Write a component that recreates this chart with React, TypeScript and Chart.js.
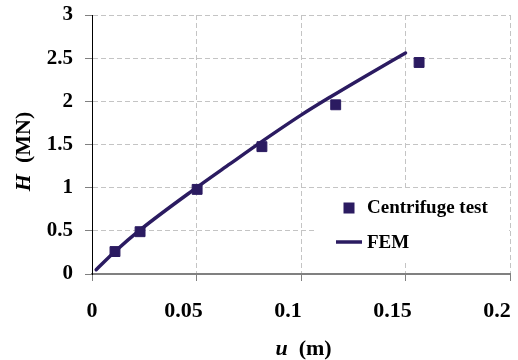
import React, { useEffect, useRef } from 'react';
import { Chart, registerables } from 'chart.js';
Chart.register(...registerables);

// Centrifuge test points
const testU = [0.011, 0.023, 0.0503, 0.0813, 0.1166, 0.1565];
const testH = [0.26, 0.49, 0.98, 1.475, 1.96, 2.45];
// FEM curve
const femU = [0.002, 0.011, 0.023, 0.05, 0.066, 0.081, 0.1, 0.114, 0.13, 0.15];
const femH = [0.05, 0.26, 0.51, 1.0, 1.275, 1.53, 1.84, 2.05, 2.28, 2.56];
// Axes
const xTicks = [0, 0.05, 0.1, 0.15, 0.2];
const xTickLabels = ['0', '0.05', '0.1', '0.15', '0.2'];
const yTicks = [0, 0.5, 1, 1.5, 2, 2.5, 3];
const seriesNames = ['Centrifuge test', 'FEM'];

const NAVY = '#2B1B61';
const FONT = '"Liberation Serif", "Times New Roman", serif';

export default function App() {
  const ref = useRef<HTMLCanvasElement | null>(null);
  useEffect(() => {
    if (!ref.current) return;
    const extras = {
      id: 'extras',
      beforeDatasetsDraw(chart: any) {
        const ctx = chart.ctx;
        ctx.save();
        ctx.fillStyle = '#ffffff';
        ctx.fillRect(315, 189, 192, 71);
        ctx.restore();
      },
      afterDraw(chart: any) {
        const ctx = chart.ctx;
        const xs = chart.scales.x;
        ctx.save();
        // x tick labels
        ctx.fillStyle = '#000';
        ctx.font = `bold 22px ${FONT}`;
        ctx.textAlign = 'center';
        ctx.textBaseline = 'alphabetic';
        xTicks.forEach((v, i) => {
          const px = xs.getPixelForValue(v) - (v === 0 ? 0 : 13);
          ctx.fillText(xTickLabels[i], px, 317);
        });
        // x title
        ctx.textAlign = 'left';
        ctx.textBaseline = 'middle';
        ctx.font = `italic bold 22px ${FONT}`;
        const w1 = ctx.measureText('u').width;
        ctx.font = `bold 22px ${FONT}`;
        const w2 = ctx.measureText('  (m)').width;
        let sx = 303.5 - (w1 + w2) / 2;
        ctx.font = `italic bold 22px ${FONT}`;
        ctx.fillText('u', sx, 349);
        ctx.font = `bold 22px ${FONT}`;
        ctx.fillText('  (m)', sx + w1, 349);
        // y title
        ctx.save();
        ctx.translate(24, 151.5);
        ctx.rotate(-Math.PI / 2);
        ctx.font = `italic bold 22px ${FONT}`;
        const h1 = ctx.measureText('H').width;
        ctx.font = `bold 22px ${FONT}`;
        const h2 = ctx.measureText('  (MN)').width;
        const sy = -(h1 + h2) / 2;
        ctx.font = `italic bold 22px ${FONT}`;
        ctx.fillText('H', sy, 0);
        ctx.font = `bold 22px ${FONT}`;
        ctx.fillText('  (MN)', sy + h1, 0);
        ctx.restore();
        // legend
        ctx.fillStyle = NAVY;
        ctx.fillRect(343.5, 202.5, 11, 11);
        ctx.strokeStyle = NAVY;
        ctx.lineWidth = 3.5;
        ctx.beginPath();
        ctx.moveTo(336, 242);
        ctx.lineTo(362, 242);
        ctx.stroke();
        ctx.fillStyle = '#000';
        ctx.font = `bold 19px ${FONT}`;
        ctx.textAlign = 'left';
        ctx.textBaseline = 'middle';
        ctx.fillText(seriesNames[0], 367, 208);
        ctx.fillText(seriesNames[1], 367, 243);
        ctx.restore();
      },
    };
    const chart = new Chart(ref.current, {
      type: 'scatter',
      data: {
        datasets: [
          {
            label: seriesNames[0],
            data: testU.map((u, i) => ({ x: u, y: testH[i] })),
            pointStyle: 'rect',
            pointRadius: 7,
            backgroundColor: NAVY,
            borderColor: NAVY,
            borderWidth: 1,
            showLine: false,
          },
          {
            label: seriesNames[1],
            data: femU.map((u, i) => ({ x: u, y: femH[i] })),
            showLine: true,
            pointRadius: 0,
            borderColor: NAVY,
            backgroundColor: NAVY,
            borderWidth: 3.5,
            cubicInterpolationMode: 'monotone',
            borderCapStyle: 'round',
          },
        ],
      },
      options: {
        animation: false,
        responsive: false,
        layout: { padding: { top: 15, right: 8, bottom: 0, left: 0 } },
        plugins: { legend: { display: false }, tooltip: { enabled: false } },
        scales: {
          x: {
            type: 'linear',
            min: 0,
            max: 0.2,
            afterBuildTicks: (s: any) => {
              s.ticks = xTicks.map((v) => ({ value: v }));
            },
            afterFit: (s: any) => {
              s.height = 86;
              s.paddingLeft = 0;
              s.paddingRight = 0;
              s.paddingTop = 0;
              s.paddingBottom = 0;
            },
            ticks: { display: false },
            grid: {
              color: '#c4c4c4',
              lineWidth: 1,
              tickLength: 7,
              tickColor: '#808080',
              tickWidth: 1,
            },
            border: { display: true, color: '#808080', width: 2, dash: [5, 3] },
          },
          y: {
            type: 'linear',
            min: 0,
            max: 3,
            afterBuildTicks: (s: any) => {
              s.ticks = yTicks.map((v) => ({ value: v }));
            },
            afterFit: (s: any) => {
              s.width = 92;
              s.paddingTop = 0;
              s.paddingBottom = 0;
              s.paddingLeft = 0;
              s.paddingRight = 0;
            },
            ticks: {
              color: '#000',
              padding: 12,
              font: { family: FONT, size: 21, weight: 'bold' },
              callback: (v: any) => String(v),
            },
            grid: {
              color: '#c4c4c4',
              lineWidth: 1,
              tickLength: 7,
              tickColor: '#808080',
              tickWidth: 1,
            },
            border: { display: true, color: '#000', width: 1, dash: [5, 3] },
          },
        },
      },
      plugins: [extras],
    } as any);
    return () => chart.destroy();
  }, []);
  return (
    <div style={{ position: 'absolute', left: 0, top: 0, width: 518, height: 360, background: '#fff' }}>
      <canvas ref={ref} width={518} height={360} style={{ display: 'block' }} />
    </div>
  );
}
